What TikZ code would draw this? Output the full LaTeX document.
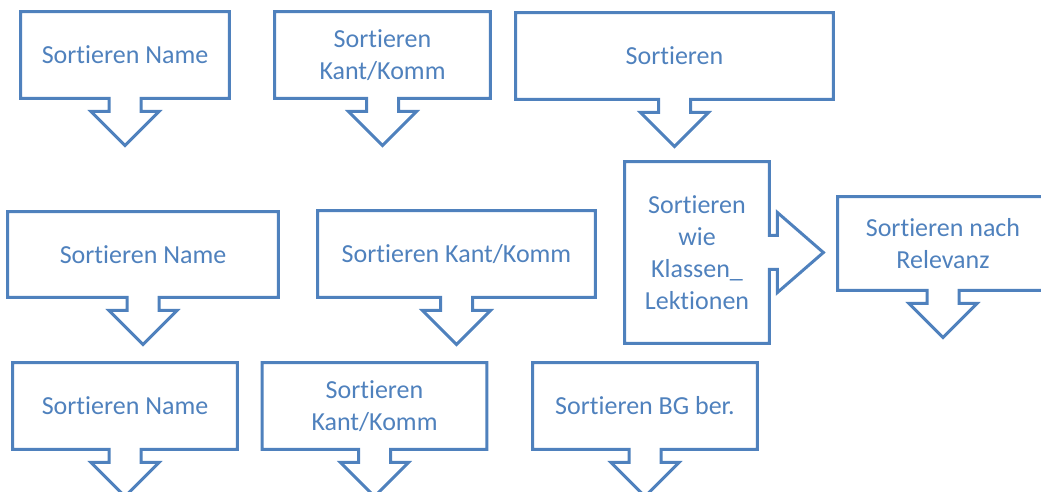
\documentclass[tikz,border=0pt]{standalone}
\usepackage{fontspec}
\setmainfont{Carlito}[Ligatures=NoCommon]
\usetikzlibrary{calc}

\definecolor{officeblue}{RGB}{79,129,189}

% callout outlines drawn round a named node
\newcommand{\calloutdown}[1]{%
 \draw[callout] (#1.north west) -- (#1.north east) -- (#1.south east)
 -- ($(#1.south)+(16,0)$) -- ++(0,13) -- ++(18,0) -- ($(#1.south)+(0,47)$)
 -- ($(#1.south)+(-34,13)$) -- ++(18,0) -- ($(#1.south)+(-16,0)$)
 -- (#1.south west) -- cycle;}
\newcommand{\calloutright}[1]{%
 \draw[callout] (#1.north west) -- (#1.north east)
 -- ($(#1.east)+(0,-17)$) -- ++(8,0) -- ++(0,-23) -- ($(#1.east)+(54,0)$)
 -- ($(#1.east)+(8,40)$) -- ++(0,-23) -- ($(#1.east)+(0,17)$)
 -- (#1.south east) -- (#1.south west) -- cycle;}

\begin{document}
\begin{tikzpicture}[x=0.5pt,y=-0.5pt,
 box/.style={inner sep=0pt,align=center,text=officeblue,
 font=\fontsize{13pt}{16pt}\selectfont},
 callout/.style={draw=officeblue,line width=1.5pt,line join=miter}]
\useasboundingbox (0,0) rectangle (1041,492);
\clip (0,0) rectangle (1041,492);
% top row
\node[box,minimum width=104pt,minimum height=43pt] (nameA) at (125,55)
 {Sortieren Name};
\node[box,minimum width=107.5pt,minimum height=43pt] (kantA) at (382.5,55)
 {Sortieren\\Kant/Komm};
\node[box,minimum width=158.5pt,minimum height=43pt] (sort) at (674.5,56)
 {Sortieren};
% middle row
\node[box,minimum width=135pt,minimum height=42.5pt] (nameB) at (143,254.5)
 {Sortieren Name};
\node[box,minimum width=138.5pt,minimum height=43pt] (kantB) at (456.5,254)
 {Sortieren Kant/Komm};
\node[box,minimum width=72pt,minimum height=90.5pt] (klassen) at (697,252.5)
 {Sortieren\\wie\\Klassen\_\\Lektionen};
\node[box,minimum width=105pt,minimum height=46.5pt] (relevanz) at (943,243.5)
 {Sortieren nach\\Relevanz};
% bottom row
\node[box,minimum width=112pt,minimum height=43pt] (nameC) at (125,406)
 {Sortieren Name};
\node[box,minimum width=112pt,minimum height=43pt] (kantC) at (374.5,406)
 {Sortieren\\Kant/Komm};
\node[box,minimum width=112pt,minimum height=43pt] (bg) at (645,406)
 {Sortieren BG ber.};
% outlines
\foreach \n in {nameA,kantA,sort,nameB,kantB,relevanz,nameC,kantC,bg}
 {\calloutdown{\n}}
\calloutright{klassen}
\end{tikzpicture}
\end{document}
